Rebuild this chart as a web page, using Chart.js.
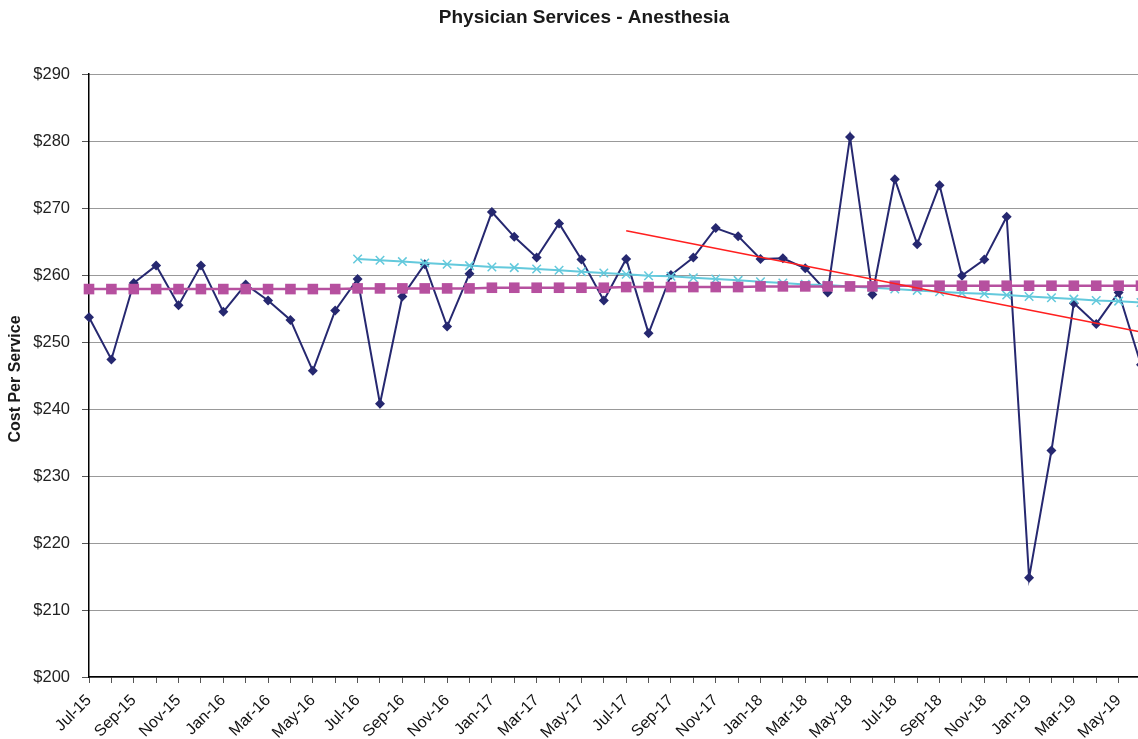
<!DOCTYPE html>
<html>
<head>
<meta charset="utf-8">
<script src="https://cdn.jsdelivr.net/npm/chart.js@4/dist/chart.umd.min.js"></script>
<style>
  html, body { margin: 0; padding: 0; background: #ffffff; overflow: hidden; }
  #wrap { width: 1170px; height: 739px; }
</style>
</head>
<body>
<div id="wrap"><canvas id="chart" width="1170" height="739"></canvas></div>
<script>
// Monthly categories
const months = [
  'Jul-15','Aug-15','Sep-15','Oct-15','Nov-15','Dec-15',
  'Jan-16','Feb-16','Mar-16','Apr-16','May-16','Jun-16',
  'Jul-16','Aug-16','Sep-16','Oct-16','Nov-16','Dec-16',
  'Jan-17','Feb-17','Mar-17','Apr-17','May-17','Jun-17',
  'Jul-17','Aug-17','Sep-17','Oct-17','Nov-17','Dec-17',
  'Jan-18','Feb-18','Mar-18','Apr-18','May-18','Jun-18',
  'Jul-18','Aug-18','Sep-18','Oct-18','Nov-18','Dec-18',
  'Jan-19','Feb-19','Mar-19','Apr-19','May-19','Jun-19'
];

// Monthly cost per service
const costPerService = [
  253.7, 247.4, 258.8, 261.4, 255.5, 261.4, 254.5, 258.6, 256.2, 253.3,
  245.7, 254.7, 259.4, 240.8, 256.8, 261.6, 252.3, 260.2, 269.4, 265.7,
  262.6, 267.7, 262.3, 256.2, 262.4, 251.3, 260.0, 262.6, 267.0, 265.8,
  262.4, 262.5, 261.0, 257.4, 280.6, 257.1, 274.3, 264.6, 273.4, 259.9,
  262.3, 268.7, 214.8, 233.8, 255.8, 252.7, 257.4, 246.6
];

// Running average
const averageCost = [
  257.9, 257.9, 257.9, 257.9, 257.9, 257.9, 257.9, 257.9, 257.9, 257.9,
  257.9, 257.9, 258.0, 258.0, 258.0, 258.0, 258.0, 258.0, 258.1, 258.1,
  258.1, 258.1, 258.1, 258.1, 258.2, 258.2, 258.2, 258.2, 258.2, 258.2,
  258.3, 258.3, 258.3, 258.3, 258.3, 258.3, 258.4, 258.4, 258.4, 258.4,
  258.4, 258.4, 258.4, 258.4, 258.4, 258.4, 258.4, 258.4
];

// Three-year trend (from Jul-16)
const longTrend = [
  null, null, null, null, null, null, null, null, null, null, null, null,
  262.4, 262.2, 262.0, 261.8, 261.6, 261.4, 261.2, 261.1, 260.9, 260.7,
  260.5, 260.3, 260.1, 259.9, 259.8, 259.6, 259.4, 259.2, 259.0, 258.8,
  258.6, 258.5, 258.3, 258.1, 257.9, 257.7, 257.5, 257.3, 257.2, 257.0,
  256.8, 256.6, 256.4, 256.2, 256.1, 255.9
];

// Two-year trend (Jul-17 to Jun-19)
const shortTrend = months.map(() => null);
shortTrend[24] = 266.6;
shortTrend[47] = 251.5;

const yTicks = [200, 210, 220, 230, 240, 250, 260, 270, 280, 290];

const FONT = "'Liberation Sans', Arial, Helvetica, sans-serif";

const textPlugin = {
  id: 'texts',
  afterDraw(chart) {
    const ctx = chart.ctx;
    ctx.save();
    ctx.fillStyle = '#1a1a1a';
    ctx.font = 'bold 19px ' + FONT;
    ctx.textAlign = 'center';
    ctx.textBaseline = 'middle';
    ctx.fillText('Physician Services - Anesthesia', 584, 18);
    ctx.translate(16, 379);
    ctx.rotate(-Math.PI / 2);
    ctx.font = 'bold 16px ' + FONT;
    ctx.fillText('Cost Per Service', 0, 0);
    ctx.restore();
  }
};

new Chart(document.getElementById('chart'), {
  type: 'line',
  data: {
    labels: months,
    datasets: [
      {
        label: 'Trend 2 yr',
        data: shortTrend,
        spanGaps: true,
        borderColor: '#ff1f1f',
        borderWidth: 1.6,
        pointRadius: 0,
        fill: false,
        order: 0,
        clip: false
      },
      {
        label: 'Average',
        data: averageCost,
        borderColor: '#b6509f',
        backgroundColor: '#b6509f',
        borderWidth: 2.5,
        pointStyle: 'rect',
        pointRadius: 7.5,
        pointBorderWidth: 0,
        pointBackgroundColor: '#b6509f',
        fill: false,
        order: 1,
        clip: false
      },
      {
        label: 'Trend 3 yr',
        data: longTrend,
        borderColor: '#63c9dc',
        borderWidth: 2,
        pointStyle: 'crossRot',
        pointRadius: 6,
        pointBorderWidth: 1.5,
        pointBorderColor: '#63c9dc',
        fill: false,
        order: 2,
        clip: false
      },
      {
        label: 'Cost Per Service',
        data: costPerService,
        borderColor: '#262870',
        backgroundColor: '#262870',
        borderWidth: 2,
        pointStyle: 'rectRot',
        pointRadius: 5,
        pointBorderWidth: 0,
        pointBackgroundColor: '#262870',
        fill: false,
        order: 3,
        clip: false
      }
    ]
  },
  options: {
    responsive: false,
    animation: false,
    devicePixelRatio: 1,
    layout: { padding: { top: 74, right: 29, left: 0, bottom: 0 } },
    plugins: {
      legend: { display: false },
      title: { display: false },
      tooltip: { enabled: false }
    },
    elements: { line: { tension: 0 } },
    scales: {
      x: {
        type: 'category',
        offset: false,
        grid: {
          display: true,
          drawOnChartArea: false,
          drawTicks: true,
          tickLength: 6,
          tickColor: '#555555',
          tickWidth: 1
        },
        border: { display: true, color: '#000000', width: 1.5 },
        ticks: {
          autoSkip: false,
          maxRotation: 45,
          minRotation: 45,
          padding: 8,
          color: '#111111',
          font: { family: FONT, size: 16 },
          callback: function (value, index) {
            return index % 2 === 0 ? months[index] : '';
          }
        },
        afterFit: function (scale) { scale.height = 62; }
      },
      y: {
        min: 200,
        max: 290,
        afterBuildTicks: function (scale) {
          scale.ticks = yTicks.map(v => ({ value: v }));
        },
        grid: {
          display: true,
          drawOnChartArea: true,
          drawTicks: true,
          tickLength: 7,
          color: '#333333',
          lineWidth: 1,
          borderDash: [1, 1],
          tickColor: '#555555',
          tickBorderDash: []
        },
        border: { display: true, color: '#000000', width: 1.5, dash: [1, 1] },
        ticks: {
          padding: 12,
          color: '#222222',
          font: { family: FONT, size: 16.5 },
          callback: function (value) { return '$' + value; }
        },
        afterFit: function (scale) { scale.width = 89; }
      }
    }
  },
  plugins: [textPlugin]
});
</script>
</body>
</html>
